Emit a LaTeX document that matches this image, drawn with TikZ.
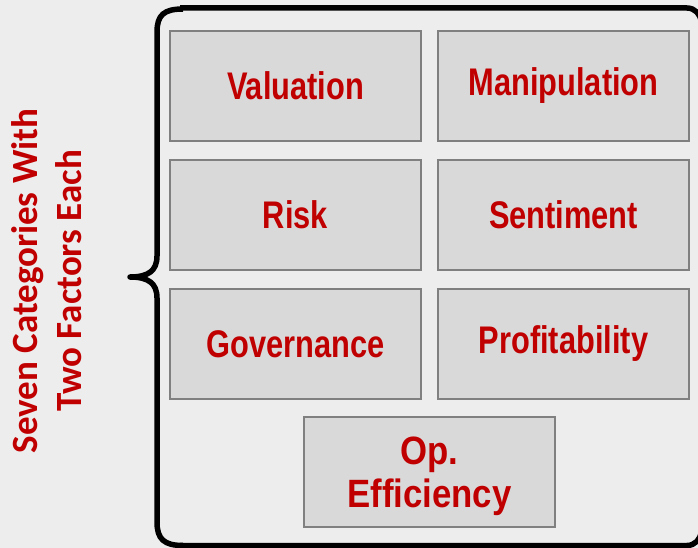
\documentclass[tikz,border=0pt]{standalone}
\usepackage{fontspec}
\usetikzlibrary{positioning,calc}
\newfontfamily\catfont[FakeStretch=0.8]{Liberation Sans}
\newfontfamily\effont[FakeStretch=0.88]{Liberation Sans}
\newfontfamily\sidefont{Carlito}
\definecolor{catred}{HTML}{C00000}
\definecolor{bggray}{HTML}{EDEDED}
\definecolor{boxgray}{HTML}{D9D9D9}
\definecolor{edgegray}{HTML}{808080}
\newcommand\boxw{251pt}
\newcommand\boxh{110pt}
\newcommand\colgap{17pt}
\newcommand\rowgap{19pt}

\tikzset{
  catbox/.style={draw=edgegray, line width=2pt, fill=boxgray,
    minimum width=\boxw, minimum height=\boxh, outer sep=0pt, inner sep=0pt,
    align=center, text=catred,
    font=\catfont\bfseries\fontsize{38.5}{43}\selectfont},
  frame/.style={line width=5.5pt, line join=round},
}

\begin{document}
\begin{tikzpicture}[x=1pt, y=-1pt]
  \fill[bggray] (0,0) rectangle (698,548);
  \useasboundingbox (0,0) rectangle (698,548);
  % categories, two per row
  \node[catbox] (val) at (295.5,86) {Valuation};
  \node[catbox, right=\colgap of val] (man) {Manipulation};
  \node[catbox, below=\rowgap of val] (risk) {Risk};
  \node[catbox, right=\colgap of risk] (sent) {Sentiment};
  \node[catbox, below=\rowgap of risk] (gov) {Governance};
  \node[catbox, right=\colgap of gov] (prof) {Profitability};
  % last one sits centred under the grid
  \coordinate (mid) at ($(gov.south)!0.5!(prof.south)$);
  \node[catbox, below=18pt of mid, text depth=0pt,
    font=\effont\bfseries\fontsize{39.5}{43}\selectfont] (eff) {Op.\\Efficiency};
  % brace on the left
  \draw[frame] (183,9) .. controls (164,9) and (157,15) .. (157,32)
    -- (157,256) .. controls (157,271) and (148,277) .. (130,277)
    .. controls (148,277) and (157,283) .. (157,298)
    -- (157,522) .. controls (157,539) and (164,545.5) .. (183,545.5);
  % rest of the frame
  \draw[frame, rounded corners=14pt] (180,8) -- (701,8) -- (701,545.5) -- (180,545.5);
  % side label
  \node[rotate=90, align=center, text=catred,
    font=\sidefont\bfseries\fontsize{37}{44}\selectfont] (side) at (47,281)
    {Seven Categories With\\Two Factors Each};
\end{tikzpicture}
\end{document}
